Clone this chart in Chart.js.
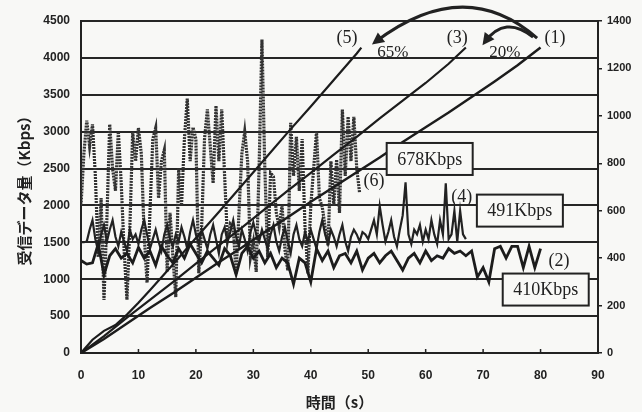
<!DOCTYPE html>
<html>
<head>
<meta charset="utf-8">
<script src="https://cdn.jsdelivr.net/npm/chart.js@4.4.1/dist/chart.umd.min.js"></script>
<style>
  html, body { margin: 0; padding: 0; background: #f8f8f6; }
  #wrap { width: 642px; height: 412px; }
</style>
</head>
<body>
<div id="wrap"><canvas id="c" width="642" height="412"></canvas></div>
<script>
// Throughput traces (Kbps, right axis), sampled at a fixed interval
const dt6 = 0.5;
const rate6 = [
  622, 840, 980, 871, 964, 747, 404, 653, 224, 560,
  964, 778, 684, 933, 716, 436, 224, 529, 933, 809,
  949, 840, 498, 296, 591, 902, 949, 653, 809, 856,
  342, 591, 404, 236, 778, 622, 902, 1073, 809, 952,
  902, 336, 529, 902, 1027, 871, 716, 1042, 809, 1027,
  747, 476, 544, 529, 336, 591, 840, 933, 809, 404,
  467, 342, 778, 1322, 778, 404, 759, 744, 591, 532,
  622, 436, 348, 971, 747, 912, 684, 902, 529, 336,
  622, 778, 933, 653, 616, 529, 454, 809, 622, 815,
  591, 1027, 747, 996, 809, 996, 778, 675
];

const dt4 = 0.5;
const rate4 = [
  467, 467, 470, 520, 560, 480, 430, 500, 540, 470,
  520, 560, 490, 450, 510, 470, 430, 520, 480, 500,
  460, 520, 560, 500, 440, 480, 520, 470, 430, 500,
  540, 480, 450, 500, 470, 530, 490, 440, 510, 560,
  500, 460, 520, 480, 440, 500, 540, 480, 420, 500,
  530, 470, 510, 560, 490, 450, 520, 480, 430, 510,
  550, 500, 470, 520, 480, 440, 500, 540, 470, 430,
  490, 530, 470, 420, 500, 540, 480, 450, 510, 470,
  520, 480, 440, 510, 560, 500, 460, 520, 490, 450,
  500, 540, 470, 430, 490, 520, 500, 470, 510, 500,
  480, 520, 560, 500, 620, 540, 470, 510, 560, 490,
  450, 520, 580, 720, 500, 460, 520, 500, 540, 470,
  520, 480, 560, 500, 460, 560, 500, 716, 480, 500,
  600, 470, 600, 500, 480
];

const dt2 = 1;
const rate2 = [
  390, 375, 380, 460, 330, 410, 440, 400, 420, 380,
  445, 400, 430, 370, 450, 410, 380, 440, 400, 460,
  420, 380, 430, 400, 370, 440, 410, 330, 420, 450,
  400, 430, 380, 420, 360, 400, 380, 290, 400, 380,
  300, 440, 390, 430, 360, 410, 420, 380, 430, 350,
  400, 420, 380, 410, 430, 390, 350, 400, 420, 380,
  430, 390, 410, 400, 440, 420, 430, 410, 430, 320,
  360, 300, 440, 450, 400, 450, 450, 360, 450, 360, 440
];

// Cumulative received data (left axis)
const cumT1 = [0, 4, 8, 12, 16, 20, 24, 28, 32, 36, 40, 44, 48, 52, 56, 60, 64, 68, 72, 76, 80];
const cum1  = [0, 190, 400, 610, 810, 1020, 1230, 1430, 1640, 1840, 2050, 2250, 2450, 2650, 2860, 3060, 3260, 3470, 3680, 3900, 4140];

const cumT3 = [0, 4, 8, 12, 16, 20, 24, 28, 32, 36, 40, 44, 48, 52, 56, 60, 64, 67];
const cum3  = [0, 230, 480, 720, 960, 1210, 1460, 1700, 1950, 2200, 2440, 2690, 2930, 3180, 3420, 3660, 3920, 4140];

const cumT5 = [0, 2, 4, 6, 8, 10, 12, 16, 20, 24, 28, 32, 36, 40, 44, 48, 48.8];
const cum5  = [0, 180, 300, 380, 520, 680, 850, 1200, 1560, 1910, 2270, 2630, 2990, 3340, 3700, 4060, 4140];

// Axis ranges and tick steps
const xTicks = { min: 0, max: 90, step: 10 };
const yTicks = { min: 0, max: 4500, step: 500 };
const y1Ticks = { min: 0, max: 1400, step: 200 };

const ink = '#222';
const paper = '#f8f8f6';

const evenly = (vals, dt) => vals.map((v, i) => ({ x: i * dt, y: v }));
const paired = (ts, vals) => ts.map((t, i) => ({ x: t, y: vals[i] }));
const plain = v => String(v);

// Captions, tags and arrows placed in data coordinates (x: s, y: left axis)
const tagPlugin = {
  id: 'tags',
  afterDatasetsDraw(chart) {
    const { ctx, chartArea, scales: { x, y } } = chart;
    const X = v => x.getPixelForValue(v);
    const Y = v => y.getPixelForValue(v);
    ctx.save();

    // inward tick marks on the time axis
    ctx.strokeStyle = ink;
    ctx.lineWidth = 1.5;
    x.ticks.forEach(tk => {
      const px = X(tk.value);
      ctx.beginPath();
      ctx.moveTo(px, chartArea.bottom);
      ctx.lineTo(px, chartArea.bottom - 4);
      ctx.stroke();
    });

    // curved arrows from (1)
    const arrow = (sx, sy, cx, cy, ex, ey) => {
      const p0 = [X(sx), Y(sy)], c = [X(cx), Y(cy)], p1 = [X(ex), Y(ey)];
      ctx.lineWidth = 3;
      ctx.strokeStyle = ink;
      ctx.beginPath();
      ctx.moveTo(p0[0], p0[1]);
      ctx.quadraticCurveTo(c[0], c[1], p1[0], p1[1]);
      ctx.stroke();
      const ang = Math.atan2(p1[1] - c[1], p1[0] - c[0]);
      const L = 12, W = 6;
      const tip = [p1[0] + Math.cos(ang) * 4, p1[1] + Math.sin(ang) * 4];
      ctx.fillStyle = ink;
      ctx.beginPath();
      ctx.moveTo(tip[0], tip[1]);
      ctx.lineTo(tip[0] - L * Math.cos(ang) + W * Math.sin(ang), tip[1] - L * Math.sin(ang) - W * Math.cos(ang));
      ctx.lineTo(tip[0] - L * Math.cos(ang) - W * Math.sin(ang), tip[1] - L * Math.sin(ang) + W * Math.cos(ang));
      ctx.closePath();
      ctx.fill();
    };
    arrow(79.4, 4268, 66.7, 5135, 51.2, 4214);
    arrow(78.7, 4282, 73.8, 4587, 70.3, 4214);

    // series tags
    ctx.fillStyle = ink;
    ctx.textAlign = 'center';
    ctx.textBaseline = 'middle';
    ctx.font = '18px "Liberation Serif"';
    [['(1)', 82.5, 4270], ['(3)', 65.5, 4270], ['(5)', 46.3, 4270],
     ['(6)', 51.0, 2330], ['(4)', 66.3, 2115], ['(2)', 83.2, 1247]]
      .forEach(([t, vx, vy]) => ctx.fillText(t, X(vx), Y(vy)));
    ctx.font = '17px "Liberation Serif"';
    [['65%', 54.3, 4070], ['20%', 73.8, 4070]]
      .forEach(([t, vx, vy]) => ctx.fillText(t, X(vx), Y(vy)));

    // average-rate boxes
    ctx.font = '18px "Liberation Serif"';
    [['678Kbps', 60.7, 2630], ['491Kbps', 76.4, 1930], ['410Kbps', 80.9, 860]]
      .forEach(([t, vx, vy]) => {
        const cx = X(vx), cy = Y(vy), w = 86, h = 32;
        ctx.fillStyle = paper;
        ctx.fillRect(cx - w / 2, cy - h / 2, w, h);
        ctx.lineWidth = 2;
        ctx.strokeStyle = ink;
        ctx.strokeRect(cx - w / 2, cy - h / 2, w, h);
        ctx.fillStyle = ink;
        ctx.fillText(t, cx, cy + 1);
      });
    ctx.restore();
  }
};

const tickFont = { family: '"Liberation Sans"', weight: 'bold', size: 12 };
const titleFont = { family: '"Noto Sans CJK JP"', weight: 'bold', size: 15 };

new Chart(document.getElementById('c'), {
  type: 'line',
  data: {
    datasets: [
      { label: '(6)', data: evenly(rate6, dt6), yAxisID: 'y1', borderColor: '#333', borderWidth: 3.2, borderDash: [2, 1], order: 6 },
      { label: '(4)', data: evenly(rate4, dt4), yAxisID: 'y1', borderColor: '#222', borderWidth: 2.2, order: 5 },
      { label: '(2)', data: evenly(rate2, dt2), yAxisID: 'y1', borderColor: '#1c1c1c', borderWidth: 2.8, order: 4 },
      { label: '(5)', data: paired(cumT5, cum5), yAxisID: 'y', borderColor: '#1c1c1c', borderWidth: 2.2, order: 3 },
      { label: '(3)', data: paired(cumT3, cum3), yAxisID: 'y', borderColor: '#1c1c1c', borderWidth: 2.2, order: 2 },
      { label: '(1)', data: paired(cumT1, cum1), yAxisID: 'y', borderColor: '#1c1c1c', borderWidth: 2.5, order: 1 }
    ]
  },
  options: {
    responsive: false,
    animation: false,
    devicePixelRatio: 1,
    layout: { padding: { top: 21, left: 0, right: 0, bottom: 0 } },
    elements: { point: { radius: 0 }, line: { tension: 0, fill: false } },
    plugins: { legend: { display: false }, tooltip: { enabled: false } },
    scales: {
      x: {
        type: 'linear', min: xTicks.min, max: xTicks.max,
        ticks: { stepSize: xTicks.step, font: tickFont, color: ink, padding: 15, callback: plain },
        grid: { drawOnChartArea: false, drawTicks: false },
        border: { display: true, color: ink, width: 2 },
        title: { display: true, text: '時間（s）', font: titleFont, color: ink, padding: { top: 0, bottom: 1 } },
        afterFit(s) { s.height = 59; }
      },
      y: {
        position: 'left', min: yTicks.min, max: yTicks.max,
        ticks: { stepSize: yTicks.step, font: tickFont, color: ink, padding: 11, callback: plain },
        grid: { color: '#262626', lineWidth: 2, drawTicks: false },
        border: { display: true, color: ink, width: 2 },
        title: { display: true, text: '受信データ量（Kbps）', font: titleFont, color: ink, padding: { top: 15, bottom: 0 } },
        afterFit(s) { s.width = 81; }
      },
      y1: {
        position: 'right', min: y1Ticks.min, max: y1Ticks.max,
        ticks: { stepSize: y1Ticks.step, font: { family: '"Liberation Sans"', weight: 'bold', size: 11 }, color: ink, padding: 5, callback: plain },
        grid: { drawOnChartArea: false, drawTicks: true, tickLength: 4, color: ink, lineWidth: 1.5 },
        border: { display: true, color: ink, width: 2 },
        afterFit(s) { s.width = 44; }
      }
    }
  },
  plugins: [tagPlugin]
});
</script>
</body>
</html>
